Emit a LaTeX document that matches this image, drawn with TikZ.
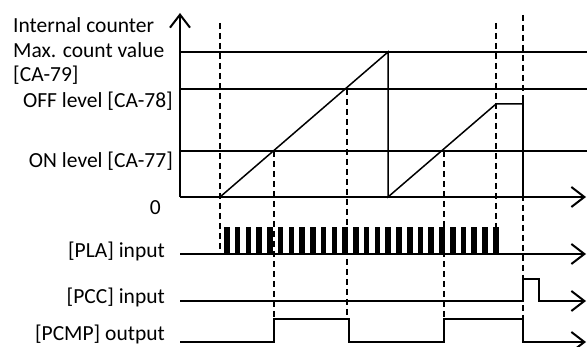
\documentclass[tikz,border=0pt]{standalone}
\usepackage{fontspec}
\setmainfont{Carlito}
\usetikzlibrary{arrows.meta}
\begin{document}
\begin{tikzpicture}[x=1pt,y=-1pt,
  lbl/.style={inner sep=0pt, font=\fontsize{21.5}{26}\selectfont},
  tip/.style={-{Straight Barb[length=13pt,width=20pt,line width=2pt]}},
  axis/.style={line width=2pt, tip},
  level/.style={line width=1.8pt},
  ramp/.style={line width=1.5pt},
  guide/.style={line width=1.6pt, dash pattern=on 6pt off 4pt},
  sig/.style={line width=2.8pt, line join=miter},
  sigarrow/.style={sig, tip},
  bar/.style={fill=black}]
\useasboundingbox (0,0) rectangle (587,347);

% coordinates
\coordinate (O) at (180,197);
\coordinate (Ytop) at (180,13);
\coordinate (Xend) at (586,197);
\coordinate (Mx0) at (180,52);   \coordinate (Mx1) at (587,52);
\coordinate (Of0) at (180,89);   \coordinate (Of1) at (587,89);
\coordinate (On0) at (180,151);  \coordinate (On1) at (587,151);

% labels
\node[lbl, anchor=base west] (t1) at (13,33) {Internal counter};
\node[lbl, anchor=base west] (t2) at (13,58) {Max. count value};
\node[lbl, anchor=base west] (t3) at (13,82) {[CA-79]};
\node[lbl, anchor=base east] (t4) at (173,108) {OFF level [CA-78]};
\node[lbl, anchor=base east] (t5) at (173,168) {ON level [CA-77]};
\node[lbl, anchor=base east] (t6) at (161,215) {0};
\node[lbl, anchor=base east] (t7) at (165,258) {[PLA] input};
\node[lbl, anchor=base east] (t8) at (165,304) {[PCC] input};
\node[lbl, anchor=base east] (t9) at (165,341) {[PCMP] output};

% level lines
\draw[level] (Mx0) -- (Mx1);
\draw[level] (Of0) -- (Of1);
\draw[level] (On0) -- (On1);

% guides
\draw[guide] (220,23) -- (220,254);
\draw[guide] (274,151) -- (274,319);
\draw[guide] (347,89) -- (347,319);
\draw[guide] (444,151) -- (444,319);
\draw[guide] (496,23) -- (496,227);
\draw[guide] (523,15) -- (523,319);

% counter
\coordinate (r0) at (220,197);
\coordinate (r1) at (388,52);
\coordinate (r2) at (388,197);
\coordinate (r3) at (496,104);
\coordinate (r4) at (523,104);
\coordinate (r5) at (523,197);
\draw[ramp] (r0) -- (r1) -- (r2) -- (r3) -- (r4);
\draw[line width=1.8pt] (523,97) -- (r5);

% axes
\draw[axis] (O) -- (Ytop);
\draw[axis] (O) -- (Xend);

% PLA
\coordinate (p0) at (180,254);
\coordinate (p1) at (586,254);
\draw[axis] (p0) -- (p1);
\foreach \i in {0,...,25} \fill[bar] (224+\i*10.76,227) rectangle ++(5.6,27);

% PCC
\coordinate (c0) at (180,301);
\coordinate (c1) at (523,301);
\coordinate (c2) at (523,279);
\coordinate (c3) at (539,279);
\coordinate (c4) at (539,301);
\coordinate (c5) at (586,301);
\draw[sigarrow] (c0) -- (c1) -- (c2) -- (c3) -- (c4) -- (c5);

% PCMP
\coordinate (m0) at (180,342);
\coordinate (m1) at (274,342);
\coordinate (m2) at (274,319);
\coordinate (m3) at (349,319);
\coordinate (m4) at (349,342);
\coordinate (m5) at (444,342);
\coordinate (m6) at (444,319);
\coordinate (m7) at (523,319);
\coordinate (m8) at (523,342);
\coordinate (m9) at (586,342);
\draw[sigarrow] (m0) -- (m1) -- (m2) -- (m3) -- (m4) -- (m5) -- (m6) -- (m7) -- (m8) -- (m9);
\end{tikzpicture}
\end{document}
